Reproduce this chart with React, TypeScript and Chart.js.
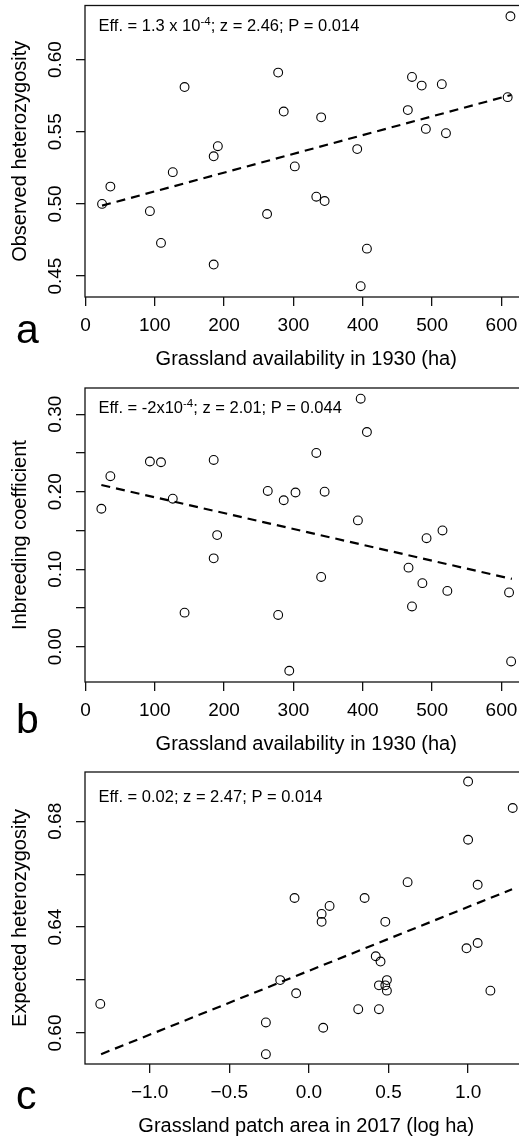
import React, { useEffect, useRef } from 'react';
import { Chart, registerables } from 'chart.js';

Chart.register(...registerables);

const FONT = '"Liberation Sans", Arial, Helvetica, sans-serif';

// ---------- Panel a: observed heterozygosity vs grassland 1930 ----------
const grasslandA = [24, 36, 93, 109, 126, 143, 185, 191, 185, 262, 278, 286, 302, 333, 345, 340, 392, 406, 397, 465, 471, 485, 491, 514, 520, 609, 613];
const obsHet = [0.500, 0.512, 0.495, 0.473, 0.522, 0.581, 0.533, 0.540, 0.458, 0.493, 0.591, 0.564, 0.526, 0.505, 0.502, 0.560, 0.538, 0.469, 0.443, 0.565, 0.588, 0.582, 0.552, 0.583, 0.549, 0.574, 0.630];
const trendAX = [24, 614];
const trendAY = [0.4988, 0.5755];

// ---------- Panel b: inbreeding coefficient vs grassland 1930 ----------
const grasslandB = [23, 36, 93, 109, 126, 143, 185, 185, 190, 263, 278, 286, 294, 303, 333, 340, 345, 393, 397, 406, 466, 471, 486, 492, 515, 522, 611, 614];
const inbreeding = [0.178, 0.220, 0.239, 0.238, 0.191, 0.044, 0.241, 0.114, 0.144, 0.201, 0.041, 0.189, -0.031, 0.199, 0.250, 0.090, 0.200, 0.163, 0.320, 0.277, 0.102, 0.052, 0.082, 0.140, 0.150, 0.072, 0.070, -0.019];
const trendBX = [23, 615];
const trendBY = [0.2086, 0.0875];

// ---------- Panel c: expected heterozygosity vs patch area 2017 ----------
const patchArea = [-1.31, -0.27, -0.27, -0.18, -0.09, -0.08, 0.08, 0.08, 0.09, 0.13, 0.31, 0.35, 0.42, 0.45, 0.44, 0.44, 0.48, 0.49, 0.48, 0.49, 0.62, 0.99, 1.00, 1.00, 1.06, 1.06, 1.14, 1.28];
const expHet = [0.611, 0.604, 0.592, 0.620, 0.651, 0.615, 0.645, 0.642, 0.602, 0.648, 0.609, 0.651, 0.629, 0.627, 0.618, 0.609, 0.642, 0.620, 0.618, 0.616, 0.657, 0.632, 0.695, 0.673, 0.634, 0.656, 0.616, 0.685];
const trendCX = [-1.305, 1.276];
const trendCY = [0.592, 0.6543];

// ---------- ticks ----------
const xTicks1930 = [0, 100, 200, 300, 400, 500, 600];
const xTickLabels1930 = ['0', '100', '200', '300', '400', '500', '600'];
const xTicksC = [-1.0, -0.5, 0.0, 0.5, 1.0];
const xTickLabelsC = ['\u22121.0', '\u22120.5', '0.0', '0.5', '1.0'];
const yTicksA = [0.45, 0.50, 0.55, 0.60];
const yTickLabelsA = ['0.45', '0.50', '0.55', '0.60'];
const yTicksB = [0.00, 0.05, 0.10, 0.15, 0.20, 0.25, 0.30];
const yTickLabelsB = ['0.00', '', '0.10', '', '0.20', '', '0.30'];
const yTicksC = [0.60, 0.62, 0.64, 0.66, 0.68];
const yTickLabelsC = ['0.60', '', '0.64', '', '0.68'];

type Part = { t: string; sup?: boolean };

interface PanelCfg {
  xs: number[]; ys: number[]; tx: number[]; ty: number[];
  xMin: number; xMax: number; yMin: number; yMax: number;
  xTicks: number[]; xTickLabels: string[]; yTicks: number[]; yTickLabels: string[];
  xTitle: string; yTitle: string; letter: string; annot: Part[];
  canvasTop: number; canvasH: number; padTop: number; xAxisH: number;
  annotDy: number; letterY: number;
}

const panels: PanelCfg[] = [
  {
    xs: grasslandA, ys: obsHet, tx: trendAX, ty: trendAY,
    xMin: -0.6, xMax: 637.6, yMin: 0.4355, yMax: 0.6375,
    xTicks: xTicks1930, xTickLabels: xTickLabels1930, yTicks: yTicksA, yTickLabels: yTickLabelsA,
    xTitle: 'Grassland availability in 1930 (ha)', yTitle: 'Observed heterozygosity', letter: 'a',
    annot: [{ t: 'Eff. = 1.3 x 10' }, { t: '-4', sup: true }, { t: '; z = 2.46; P = 0.014' }],
    canvasTop: 0, canvasH: 380, padTop: 5, xAxisH: 83, annotDy: 25.5, letterY: 343,
  },
  {
    xs: grasslandB, ys: inbreeding, tx: trendBX, ty: trendBY,
    xMin: -0.6, xMax: 637.6, yMin: -0.0455, yMax: 0.3338,
    xTicks: xTicks1930, xTickLabels: xTickLabels1930, yTicks: yTicksB, yTickLabels: yTickLabelsB,
    xTitle: 'Grassland availability in 1930 (ha)', yTitle: 'Inbreeding coefficient', letter: 'b',
    annot: [{ t: 'Eff. = -2x10' }, { t: '-4', sup: true }, { t: '; z = 2.01; P = 0.044' }],
    canvasTop: 380, canvasH: 385, padTop: 8, xAxisH: 83, annotDy: 25, letterY: 733,
  },
  {
    xs: patchArea, ys: expHet, tx: trendCX, ty: trendCY,
    xMin: -1.406, xMax: 1.373, yMin: 0.5883, yMax: 0.6986,
    xTicks: xTicksC, xTickLabels: xTickLabelsC, yTicks: yTicksC, yTickLabels: yTickLabelsC,
    xTitle: 'Grassland patch area in 2017 (log ha)', yTitle: 'Expected heterozygosity', letter: 'c',
    annot: [{ t: 'Eff. = 0.02; z = 2.47; P = 0.014' }],
    canvasTop: 765, canvasH: 377, padTop: 7, xAxisH: 78, annotDy: 30, letterY: 1109,
  },
];

const CANVAS_W = 540;

function Panel({ cfg }: { cfg: PanelCfg }) {
  const ref = useRef<HTMLCanvasElement>(null);
  useEffect(() => {
    const canvas = ref.current!;
    const textPlugin = {
      id: 'rtext',
      afterDraw(chart: any) {
        const ctx: CanvasRenderingContext2D = chart.ctx;
        const { left, right, top, bottom } = chart.chartArea;
        const xs = chart.scales.x;
        const ys = chart.scales.y;
        ctx.save();
        ctx.strokeStyle = '#111';
        ctx.lineWidth = 1.3;
        ctx.strokeRect(left, top, right - left, bottom - top);
        ctx.fillStyle = '#000';
        ctx.textBaseline = 'alphabetic';
        // y tick labels (rotated)
        ctx.font = `19px ${FONT}`;
        cfg.yTicks.forEach((v, i) => {
          const lab = cfg.yTickLabels[i];
          if (!lab) return;
          const py = ys.getPixelForValue(v);
          ctx.save();
          ctx.translate(61, py);
          ctx.rotate(-Math.PI / 2);
          ctx.textAlign = 'center';
          ctx.fillText(lab, 0, 0);
          ctx.restore();
        });
        // x tick labels
        ctx.textAlign = 'center';
        cfg.xTicks.forEach((v, i) => {
          ctx.fillText(cfg.xTickLabels[i], xs.getPixelForValue(v), bottom + 34);
        });
        // axis titles
        ctx.font = `20px ${FONT}`;
        ctx.fillText(cfg.xTitle, (left + right) / 2, bottom + 68);
        ctx.save();
        ctx.translate(26, (top + bottom) / 2);
        ctx.rotate(-Math.PI / 2);
        ctx.textAlign = 'center';
        ctx.fillText(cfg.yTitle, 0, 0);
        ctx.restore();
        // panel letter
        ctx.font = `41px ${FONT}`;
        ctx.textAlign = 'left';
        ctx.fillText(cfg.letter, 16, cfg.letterY - cfg.canvasTop);
        // annotation
        let x = 98.5;
        const y = top + cfg.annotDy;
        cfg.annot.forEach((p) => {
          if (p.sup) {
            ctx.font = `11.5px ${FONT}`;
            ctx.fillText(p.t, x, y - 6.5);
          } else {
            ctx.font = `16.5px ${FONT}`;
            ctx.fillText(p.t, x, y);
          }
          x += ctx.measureText(p.t).width;
        });
        ctx.restore();
      },
    };

    const tickGrid = { drawOnChartArea: false, drawTicks: true, tickLength: 9, color: '#111', lineWidth: 1.3 };

    const chart = new Chart(canvas, {
      type: 'scatter',
      data: {
        datasets: [
          {
            type: 'scatter',
            data: cfg.xs.map((v, i) => ({ x: v, y: cfg.ys[i] })),
            pointStyle: 'circle',
            pointRadius: 4.4,
            pointBorderWidth: 1.1,
            borderColor: '#000',
            backgroundColor: 'rgba(0,0,0,0)',
            clip: false,
          } as any,
          {
            type: 'line',
            data: cfg.tx.map((v, i) => ({ x: v, y: cfg.ty[i] })),
            borderColor: '#000',
            borderWidth: 2.2,
            borderDash: [9, 6],
            pointRadius: 0,
            fill: false,
            tension: 0,
            clip: false,
          } as any,
        ],
      },
      options: {
        animation: false,
        responsive: false,
        events: [],
        layout: { padding: { top: cfg.padTop, right: CANVAS_W - 527.5, bottom: 0, left: 0 } },
        plugins: { legend: { display: false }, tooltip: { enabled: false } },
        scales: {
          x: {
            type: 'linear',
            min: cfg.xMin,
            max: cfg.xMax,
            afterBuildTicks: (s: any) => { s.ticks = cfg.xTicks.map((v) => ({ value: v })); },
            afterFit: (s: any) => { s.height = cfg.xAxisH; },
            ticks: { display: false },
            grid: tickGrid,
            border: { display: false },
          },
          y: {
            type: 'linear',
            min: cfg.yMin,
            max: cfg.yMax,
            afterBuildTicks: (s: any) => { s.ticks = cfg.yTicks.map((v) => ({ value: v })); },
            afterFit: (s: any) => { s.width = 85; },
            ticks: { display: false },
            grid: tickGrid,
            border: { display: false },
          },
        },
      } as any,
      plugins: [textPlugin],
    });
    return () => chart.destroy();
  }, [cfg]);

  return (
    <canvas
      ref={ref}
      width={CANVAS_W}
      height={cfg.canvasH}
      style={{ position: 'absolute', left: 0, top: cfg.canvasTop, width: CANVAS_W, height: cfg.canvasH }}
    />
  );
}

export default function App() {
  return (
    <div style={{ position: 'absolute', left: 0, top: 0, width: 519, height: 1142, overflow: 'hidden', background: '#fff' }}>
      {panels.map((p, i) => (
        <Panel key={i} cfg={p} />
      ))}
    </div>
  );
}
